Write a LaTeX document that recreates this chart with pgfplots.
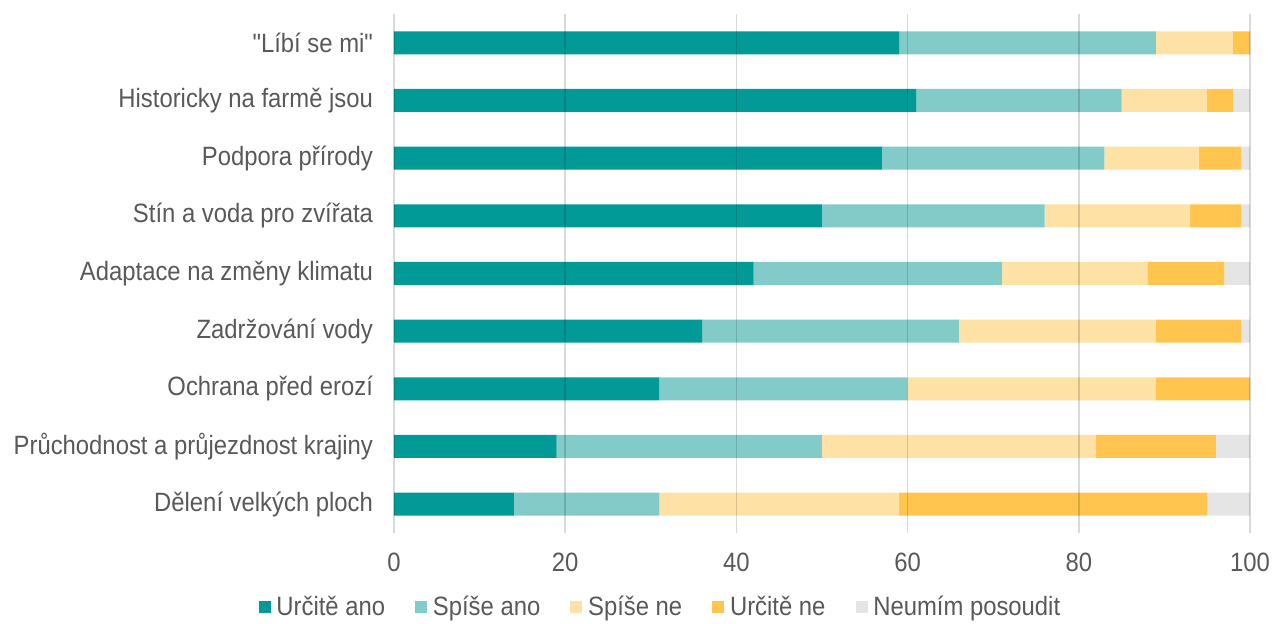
\documentclass[border=0pt]{standalone}
\usepackage{fontspec}
\setmainfont[FakeStretch=0.9]{Liberation Sans}
% same face without TeX ligatures, for straight quotes
\newfontfamily\plainq[FakeStretch=0.9]{Liberation Sans}
\usepackage{pgfplots}
\usepackage{pgfplotstable}
\pgfplotsset{compat=1.18}
\definecolor{tealdark}{HTML}{029A96}
\definecolor{teallight}{HTML}{82CBC9}
\definecolor{yellowlight}{HTML}{FEE1A4}
\definecolor{orange}{HTML}{FFC54E}
\definecolor{greylight}{HTML}{E5E5E5}
\definecolor{txt}{HTML}{595959}

% rows from bottom (y=0) to top (y=8)
\pgfplotstableread{
y  a  b  c  d  e
8  59 30 9  2  0
7  61 24 10 3  2
6  57 26 11 5  1
5  50 26 17 6  1
4  42 29 17 9  3
3  36 30 23 10 1
2  31 29 29 11 0
1  19 31 32 14 4
0  14 17 28 36 5
}\answers

\begin{document}
\begin{tikzpicture}
\begin{axis}[
  xbar stacked,
  scale only axis,
  width=428bp, height=259.5bp,
  xmin=0, xmax=100, ymin=-0.5, ymax=8.5,
  enlargelimits=false,
  bar width=11.5bp,
  xtick={0,20,...,100},
  ytick={0,...,8},
  yticklabels={Dělení velkých ploch, Průchodnost a průjezdnost krajiny,
    Ochrana před erozí, Zadržování vody, Adaptace na změny klimatu,
    Stín a voda pro zvířata, Podpora přírody, Historicky na farmě jsou,
    {\plainq"Líbí se mi"}},
  /pgf/number format/assume math mode=true,
  ticklabel style={font=\fontsize{13.25bp}{16bp}\selectfont, text=txt},
  xticklabel style={yshift=-6.5bp},
  yticklabel style={xshift=-7bp},
  xmajorgrids,
  grid style={draw=black, opacity=0.15, line width=0.8bp},
  axis line style={draw=none},
  tick style={draw=none},
  axis on top,
  legend columns=5,
  legend image code/.code={\fill[#1] (0bp,-3bp) rectangle (6bp,3bp);},
  legend style={draw=none, fill=none, inner sep=0pt,
    font=\fontsize{13.25bp}{16bp}\selectfont, text=txt,
    at={(-0.1586,-0.1435)}, anchor=west,
    nodes={inner sep=0pt},
    /tikz/every odd column/.append style={column sep=2.9bp},
    /tikz/every even column/.append style={column sep=15bp}},
  legend cell align=left,
]
\addplot[fill=tealdark, draw=none] table[x=a, y=y] {\answers};
\addplot[fill=teallight, draw=none] table[x=b, y=y] {\answers};
\addplot[fill=yellowlight, draw=none] table[x=c, y=y] {\answers};
\addplot[fill=orange, draw=none] table[x=d, y=y] {\answers};
\addplot[fill=greylight, draw=none] table[x=e, y=y] {\answers};
\legend{Určitě ano, Spíše ano, Spíše ne, Určitě ne, Neumím posoudit}
\end{axis}
\pgfresetboundingbox
\path[use as bounding box] (-197bp,-45.5bp) rectangle (439.5bp,266.5bp);
\end{tikzpicture}
\end{document}
